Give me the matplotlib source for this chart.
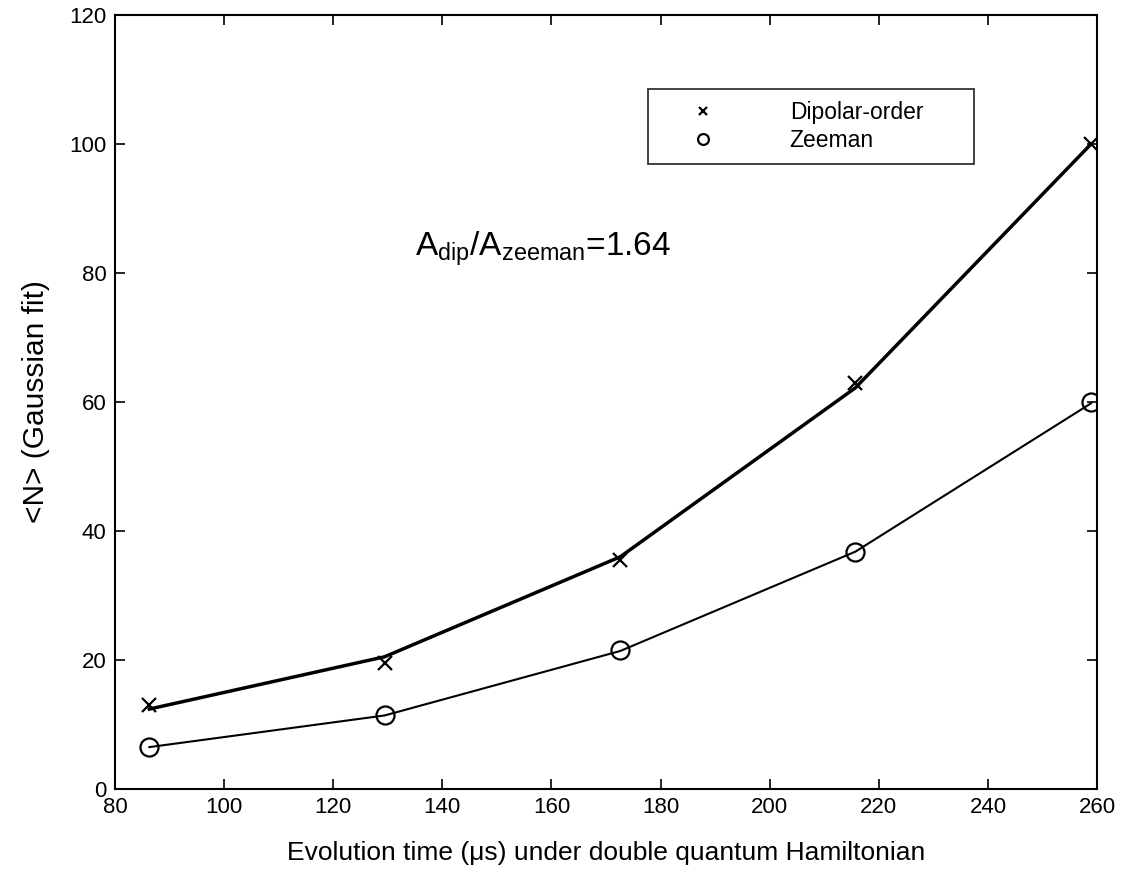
import numpy as np
import matplotlib
matplotlib.use("Agg")
import matplotlib.pyplot as plt

# evolution times (us)
times = [86.3, 129.4, 172.6, 215.7, 258.9]

# measured <N> values
dipolar_pts = [13.1, 19.5, 35.5, 63.0, 100.0]
zeeman_pts = [6.5, 11.4, 21.5, 36.8, 60.0]

# gaussian fit curves
dipolar_fit = [12.4, 20.5, 36.0, 62.2, 100.0]
zeeman_fit = [6.5, 11.4, 21.4, 36.8, 59.8]

x_ticks = [80, 100, 120, 140, 160, 180, 200, 220, 240, 260]
y_ticks = [0, 20, 40, 60, 80, 100, 120]

plt.rcParams['font.family'] = ['Liberation Sans', 'DejaVu Sans']
plt.rcParams['mathtext.fontset'] = 'custom'
plt.rcParams['mathtext.rm'] = 'Liberation Sans'
plt.rcParams['mathtext.it'] = 'Liberation Sans'

fig = plt.figure(figsize=(11.31, 8.73), dpi=100)
ax = fig.add_axes([0.1017, 0.0962, 0.8683, 0.8866])

# fit lines
ax.plot(times, dipolar_fit, color='k', lw=2.5)
ax.plot(times, zeeman_fit, color='k', lw=1.5)

# data points
ax.plot(times, dipolar_pts, linestyle='none', marker='x', color='k',
        markersize=10, markeredgewidth=1.6, label='Dipolar-order')
ax.plot(times, zeeman_pts, linestyle='none', marker='o', markerfacecolor='none',
        markeredgecolor='k', markersize=13, markeredgewidth=1.6, label='Zeeman')

ax.set_xlim(80, 260)
ax.set_ylim(0, 120)
ax.set_xticks(x_ticks)
ax.set_yticks(y_ticks)
ax.tick_params(direction='in', length=7, width=1.2, labelsize=16,
               top=True, right=True, pad=6)
for s in ax.spines.values():
    s.set_linewidth(1.5)

ax.set_xlabel('Evolution time (\u03bcs) under double quantum Hamiltonian',
              fontsize=19, labelpad=16)
ax.set_ylabel('<N> (Gaussian fit)', fontsize=21.5, labelpad=14)

ax.text(135, 83.8, r'$\mathregular{A_{dip}/A_{zeeman}}$=1.64', fontsize=24,
        va='center', ha='left')

leg = ax.legend(loc='upper left', bbox_to_anchor=(0.543, 0.704, 0.332, 0.2),
                mode='expand', borderaxespad=0, fontsize=16.5, markerscale=0.6,
                frameon=True, fancybox=False, edgecolor='k', borderpad=0.53,
                handlelength=3.74, handletextpad=1.9, labelspacing=0.2)
leg.get_frame().set_linewidth(1.3)

fig.savefig('out.png', dpi=100)
